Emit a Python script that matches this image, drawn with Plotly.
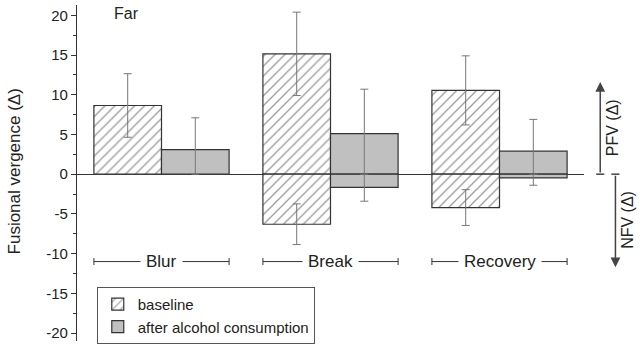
import plotly.graph_objects as go

categories = ["Blur", "Break", "Recovery"]
# positive fusional vergence (PFV) means and SDs
baseline_pfv = [8.65, 15.15, 10.55]
baseline_pfv_sd = [4.0, 5.25, 4.35]
alcohol_pfv = [3.1, 5.1, 2.9]
alcohol_pfv_sd = [4.0, 5.6, 4.0]
# negative fusional vergence (NFV) means and SDs (no Blur value)
baseline_nfv = [None, -6.3, -4.2]
baseline_nfv_sd = [None, 2.56, 2.25]
alcohol_nfv = [None, -1.65, -0.47]
alcohol_nfv_sd = [None, 1.75, 0.92]
y_ticks = [-20, -15, -10, -5, 0, 5, 10, 15, 20]

FONT = "Liberation Sans, Arial, sans-serif"
DARK = "#333333"
ERR = "#777777"
GRAY = "#c0c0c0"

gi = list(range(len(categories)))
x_base = [i - 0.2 for i in gi]
x_alc = [i + 0.2 for i in gi]


def clip_down(vals, sds):
    return [None if v is None else min(s, abs(v)) for v, s in zip(vals, sds)]


hatch = dict(shape="/", size=7, solidity=0.18, fgcolor="#333333", bgcolor="white", fillmode="overlay")

fig = go.Figure()
fig.add_trace(go.Bar(
    x=x_base, y=baseline_pfv, width=0.4, name="baseline",
    marker=dict(color="white", pattern=hatch, line=dict(color=DARK, width=1.2)),
    error_y=dict(type="data", symmetric=False, array=baseline_pfv_sd,
                 arrayminus=clip_down(baseline_pfv, baseline_pfv_sd),
                 color=ERR, thickness=1, width=4),
))
fig.add_trace(go.Bar(
    x=x_alc, y=alcohol_pfv, width=0.4, name="after alcohol consumption",
    marker=dict(color=GRAY, line=dict(color=DARK, width=1.2)),
    error_y=dict(type="data", symmetric=False, array=alcohol_pfv_sd,
                 arrayminus=clip_down(alcohol_pfv, alcohol_pfv_sd),
                 color=ERR, thickness=1, width=4),
))
fig.add_trace(go.Bar(
    x=x_base, y=baseline_nfv, width=0.4, name="baseline", showlegend=False,
    marker=dict(color="white", pattern=hatch, line=dict(color=DARK, width=1.2)),
    error_y=dict(type="data", symmetric=False, arrayminus=baseline_nfv_sd,
                 array=clip_down(baseline_nfv, baseline_nfv_sd),
                 color=ERR, thickness=1, width=4),
))
fig.add_trace(go.Bar(
    x=x_alc, y=alcohol_nfv, width=0.4, name="after alcohol consumption", showlegend=False,
    marker=dict(color=GRAY, line=dict(color=DARK, width=1.2)),
    error_y=dict(type="data", symmetric=False, arrayminus=alcohol_nfv_sd,
                 array=clip_down(alcohol_nfv, alcohol_nfv_sd),
                 color=ERR, thickness=1, width=4),
))

# group bracket lines under the bars
lx, ly = [], []
label_y = -11
for i in gi:
    lx += [i - 0.4, i + 0.4, None]
    ly += [label_y, label_y, None]
fig.add_trace(go.Scatter(
    x=lx, y=ly, mode="lines+markers", showlegend=False, hoverinfo="skip",
    line=dict(color=DARK, width=1),
    marker=dict(symbol="line-ns", size=5, line=dict(color=DARK, width=1)),
))

annotations = []
for i, c in zip(gi, categories):
    annotations.append(dict(x=i, y=label_y, xref="x", yref="y", text=c, showarrow=False,
                            font=dict(family=FONT, size=17, color="#222"),
                            bgcolor="white", borderpad=5))

annotations.append(dict(x=-0.21, y=0.975, xref="x", yref="paper", text="Far", showarrow=False,
                        xanchor="center", yanchor="middle",
                        font=dict(family=FONT, size=16, color="#222")))
annotations.append(dict(x=-0.124, y=0.505, xref="paper", yref="paper", text="Fusional vergence (Δ)",
                        textangle=-90, showarrow=False, xanchor="center", yanchor="middle",
                        font=dict(family=FONT, size=17, color="#222")))
# PFV / NFV arrows
annotations.append(dict(x=1.032, y=11.6, xref="paper", yref="y", ax=0, ay=92, axref="pixel", ayref="pixel",
                        text="", showarrow=True, arrowhead=2, arrowsize=1.3, arrowwidth=1.5,
                        arrowcolor="#444"))
annotations.append(dict(x=1.062, y=-11.7, xref="paper", yref="y", ax=0, ay=-93, axref="pixel", ayref="pixel",
                        text="", showarrow=True, arrowhead=2, arrowsize=1.3, arrowwidth=1.5,
                        arrowcolor="#444"))
annotations.append(dict(x=1.055, y=5.9, xref="paper", yref="y", text="PFV (Δ)", textangle=-90,
                        xanchor="center", yanchor="middle",
                        showarrow=False, font=dict(family=FONT, size=16, color="#222")))
annotations.append(dict(x=1.086, y=-5.8, xref="paper", yref="y", text="NFV (Δ)", textangle=-90,
                        xanchor="center", yanchor="middle",
                        showarrow=False, font=dict(family=FONT, size=16, color="#222")))

shapes = [
    dict(type="line", xref="paper", yref="y", x0=1.024, x1=1.040, y0=0, y1=0,
         line=dict(color="#444", width=1.5)),
    dict(type="line", xref="paper", yref="y", x0=1.054, x1=1.070, y0=0, y1=0,
         line=dict(color="#444", width=1.5)),
]

fig.update_layout(
    width=644, height=344,
    margin=dict(l=77, r=60, t=5, b=3, autoexpand=False),
    paper_bgcolor="white", plot_bgcolor="white",
    barmode="overlay",
    font=dict(family=FONT, color="#222"),
    xaxis=dict(range=[-0.5, 2.5], visible=False, showgrid=False, zeroline=False, automargin=False),
    yaxis=dict(range=[-21, 21.3], tickvals=y_ticks, ticktext=[str(v) for v in y_ticks],
               showline=True, linecolor=DARK, linewidth=1.2, ticks="outside", ticklen=5,
               tickcolor=DARK, tickwidth=1, showgrid=False, automargin=False,
               zeroline=True, zerolinecolor=DARK, zerolinewidth=1.3,
               tickfont=dict(family=FONT, size=15, color="#222"),
               minor=dict(dtick=2.5, tick0=0, ticks="outside", ticklen=3, tickcolor=DARK, showgrid=False)),
    legend=dict(x=0.039, y=0.076, xanchor="left", yanchor="middle", bgcolor="white",
                bordercolor="#555", borderwidth=1, font=dict(family=FONT, size=15, color="#222"),
                itemwidth=30, tracegroupgap=0),
    annotations=annotations,
    shapes=shapes,
    showlegend=True,
)

fig.write_html("out.html", config={"displayModeBar": False},
               post_script="document.body.style.margin='0';document.body.style.overflow='hidden';")
